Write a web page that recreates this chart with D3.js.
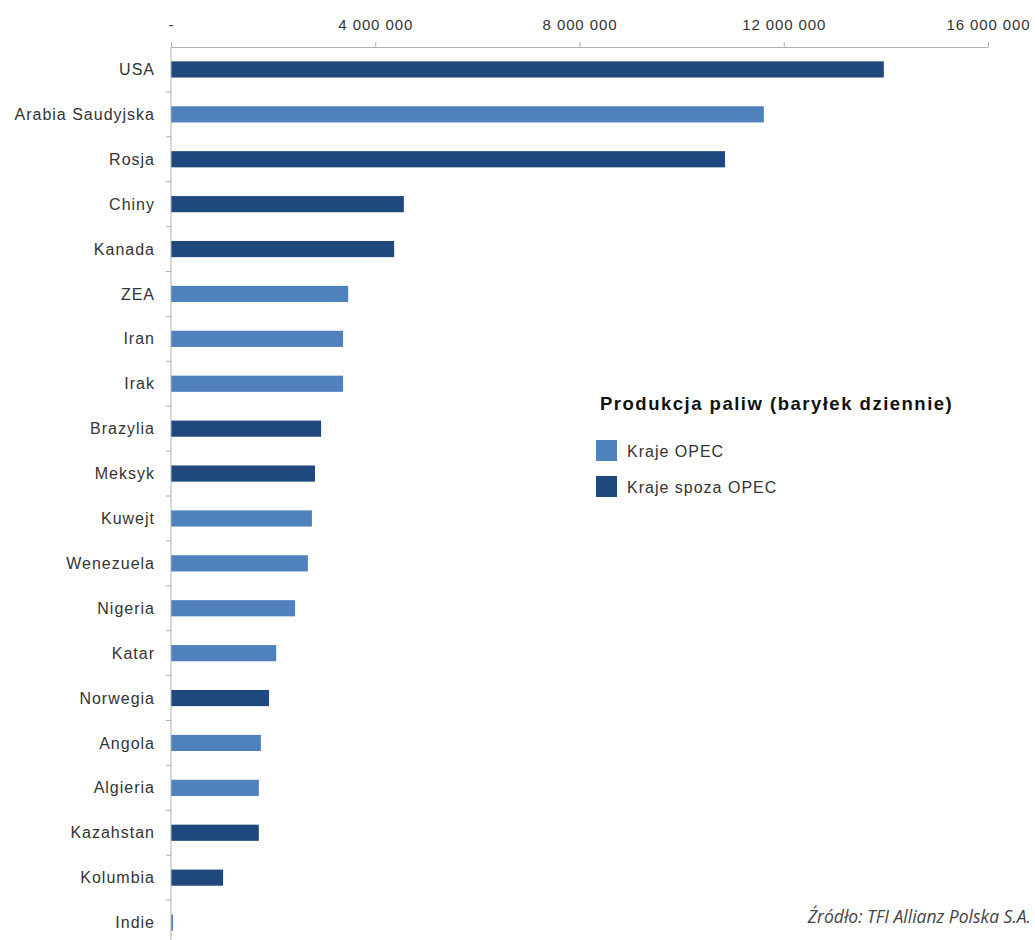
<!DOCTYPE html>
<html><head><meta charset="utf-8">
<script src="https://cdn.jsdelivr.net/npm/d3@7"></script>
<style>
body{margin:0;background:#fff;}
svg{display:block;}
</style></head>
<body>
<script>
const countries = ["USA","Arabia Saudyjska","Rosja","Chiny","Kanada","ZEA","Iran","Irak","Brazylia","Meksyk","Kuwejt","Wenezuela","Nigeria","Katar","Norwegia","Angola","Algieria","Kazahstan","Kolumbia","Indie"];
const production = [13960000,11610000,10850000,4560000,4370000,3470000,3370000,3370000,2940000,2820000,2760000,2680000,2430000,2060000,1920000,1760000,1720000,1720000,1020000,40000];
const groups = ["non","opec","non","non","non","opec","opec","opec","non","non","opec","opec","opec","opec","non","opec","opec","non","non","opec"];
const tickValues = [0,4000000,8000000,12000000,16000000];
const tickLabels = ["-","4 000 000","8 000 000","12 000 000","16 000 000"];
const legendTitle = "Produkcja paliw (baryłek dziennie)";
const legendKeys = ["opec","non"];
const legendLabels = ["Kraje OPEC","Kraje spoza OPEC"];
const sourceText = "Źródło: TFI Allianz Polska S.A.";

const W=1035,H=940;
const color = d3.scaleOrdinal().domain(["opec","non"]).range(["#4F81BD","#1F497D"]);
const svg = d3.select("body").append("svg").attr("width",W).attr("height",H);
const x = d3.scaleLinear().domain([0,16000000]).range([171,988]);
const y = d3.scaleBand().domain(countries).range([47,945]).paddingInner(0.64).paddingOuter(0.32);
const data = countries.map((c,i)=>({c,v:production[i],g:groups[i]}));

const font = "'Liberation Sans', Arial, sans-serif";

// bars
svg.append("g").selectAll("rect").data(data).join("rect")
  .attr("x",x(0)).attr("y",d=>y(d.c)).attr("height",y.bandwidth())
  .attr("width",d=>Math.max(1.5,x(d.v)-x(0))).attr("fill",d=>color(d.g));

// x axis top
const xa = svg.append("g").attr("transform","translate(0,47)")
  .call(d3.axisTop(x).tickValues(tickValues).tickFormat((d,i)=>tickLabels[i]).tickSize(5).tickSizeOuter(0));
xa.select(".domain").attr("stroke","#b0b0b0");
xa.selectAll(".tick line").attr("stroke","#b0b0b0");
xa.selectAll(".tick text").attr("font-family",font).attr("font-size",15).attr("fill","#333")
  .attr("letter-spacing","0.9px").attr("y",-17);

// y axis
const ya = svg.append("g").attr("transform","translate(171,0)");
ya.append("line").attr("x1",0).attr("x2",0).attr("y1",47).attr("y2",945).attr("stroke","#b0b0b0");
const step = y.step();
ya.selectAll("line.tk").data(countries.slice(1)).join("line").attr("class","tk")
  .attr("x1",-5).attr("x2",0)
  .attr("y1",d=>y(d)+y.bandwidth()/2-step/2).attr("y2",d=>y(d)+y.bandwidth()/2-step/2)
  .attr("stroke","#b0b0b0");
ya.selectAll("text").data(countries).join("text")
  .attr("x",-16).attr("y",d=>y(d)+y.bandwidth()/2).attr("dy","0.35em")
  .attr("text-anchor","end").attr("font-family",font).attr("font-size",16)
  .attr("letter-spacing","1px").attr("fill","#333").text(d=>d);

// legend
const lg = svg.append("g");
lg.append("text").attr("x",600).attr("y",410).attr("font-family",font).attr("font-weight","bold")
  .attr("font-size",18.5).attr("letter-spacing","1.5px").attr("fill","#111").text(legendTitle);
legendKeys.forEach((k,i)=>{
  const yy = 440 + i*36;
  lg.append("rect").attr("x",596).attr("y",yy).attr("width",21).attr("height",21).attr("fill",color(k));
  lg.append("text").attr("x",627).attr("y",yy+11).attr("dy","0.35em").attr("font-family",font)
    .attr("font-size",16).attr("letter-spacing","1px").attr("fill","#333").text(legendLabels[i]);
});

// source
svg.append("text").attr("x",1031).attr("y",923).attr("text-anchor","end")
  .attr("font-family","'Liberation Sans Narrow','Open Sans',sans-serif")
  .attr("font-style","italic").attr("font-size",17.5).attr("fill","#444").text(sourceText);
</script>
</body></html>
